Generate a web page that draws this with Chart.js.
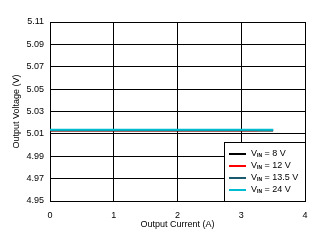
<!DOCTYPE html>
<html><head><meta charset="utf-8">
<script src="https://cdn.jsdelivr.net/npm/chart.js@4"></script>
<style>html,body{margin:0;padding:0;background:#fff}#wrap{width:322px;height:243px}</style>
</head><body><div id="wrap"><canvas id="c" width="322" height="243"></canvas></div>
<script>
const seriesNames = ['8 V', '12 V', '13.5 V', '24 V'];
const seriesColors = ['#000000', '#ff0000', '#1b5a6e', '#00bcd0'];
const currents8 = [0, 3.5];
const volts8 = [5.0131, 5.0131];
const currents12 = [0, 3.25];
const volts12 = [5.0133, 5.0133];
const currents135 = [0, 3.5];
const volts135 = [5.0134, 5.0134];
const currents24 = [0, 3.5];
const volts24 = [5.0137, 5.0137];
const yTicks = [4.95, 4.97, 4.99, 5.01, 5.03, 5.05, 5.07, 5.09, 5.11];
const xTicks = [0, 1, 2, 3, 4];

const xs = [currents8, currents12, currents135, currents24];
const ys = [volts8, volts12, volts135, volts24];
const FONT = 'Liberation Sans, Arial, sans-serif';

const legendPlugin = {
  id: 'vinLegend',
  afterDraw(chart) {
    const ctx = chart.ctx, a = chart.chartArea;
    const bx = a.right - 81, by = a.bottom - 59, bw = 81, bh = 59;
    ctx.save();
    ctx.fillStyle = '#fff';
    ctx.fillRect(bx, by, bw, bh);
    ctx.strokeStyle = '#000'; ctx.lineWidth = 1;
    ctx.strokeRect(bx + 0.5, by + 0.5, bw, bh);
    ctx.textBaseline = 'middle';
    seriesNames.forEach((n, i) => {
      const y = by + 12 + i * 12;
      ctx.strokeStyle = seriesColors[i]; ctx.lineWidth = 2;
      ctx.beginPath(); ctx.moveTo(bx + 5, y); ctx.lineTo(bx + 22, y); ctx.stroke();
      ctx.fillStyle = '#000';
      ctx.font = '9px ' + FONT;
      let x = bx + 27;
      ctx.fillText('V', x, y); x += ctx.measureText('V').width;
      ctx.font = 'bold 5px ' + FONT;
      ctx.fillText('IN', x, y + 2); x += ctx.measureText('IN').width;
      ctx.font = '9px ' + FONT;
      ctx.fillText(' = ' + n, x, y);
    });
    ctx.restore();
  }
};

new Chart(document.getElementById('c'), {
  type: 'scatter',
  data: {
    datasets: seriesNames.map((n, i) => ({
      label: 'VIN = ' + n,
      data: xs[i].map((x, j) => ({x, y: ys[i][j]})),
      showLine: true,
      borderColor: seriesColors[i],
      backgroundColor: seriesColors[i],
      borderWidth: 2,
      pointRadius: 0,
      order: 4 - i
    }))
  },
  options: {
    responsive: false,
    animation: false,
    layout: { padding: { left: 0, right: 17, top: 22, bottom: 0 } },
    plugins: { legend: { display: false }, tooltip: { enabled: false } },
    scales: {
      x: {
        type: 'linear', min: 0, max: 4,
        afterBuildTicks: s => { s.ticks = xTicks.map(v => ({value: v})); },
        afterFit: s => { s.height = 42; },
        ticks: { color: '#000', font: { family: FONT, size: 9 }, padding: 9, maxRotation: 0 },
        grid: { color: '#000', lineWidth: 1, drawTicks: false },
        border: { color: '#000', width: 1 },
        title: { display: true, text: 'Output Current (A)', color: '#000', font: { family: FONT, size: 9 }, padding: { top: 2, bottom: 13 } }
      },
      y: {
        type: 'linear', min: 4.95, max: 5.11,
        afterBuildTicks: s => { s.ticks = yTicks.map(v => ({value: v})); },
        afterFit: s => { s.width = 50; },
        ticks: { color: '#000', font: { family: FONT, size: 9 }, padding: 6, callback: v => v.toFixed(2) },
        grid: { color: '#000', lineWidth: 1, drawTicks: false },
        border: { color: '#000', width: 1 },
        title: { display: true, text: 'Output Voltage (V)', color: '#000', font: { family: FONT, size: 9 }, padding: { top: 11, bottom: 0 } }
      }
    }
  },
  plugins: [legendPlugin]
});
</script></body></html>
